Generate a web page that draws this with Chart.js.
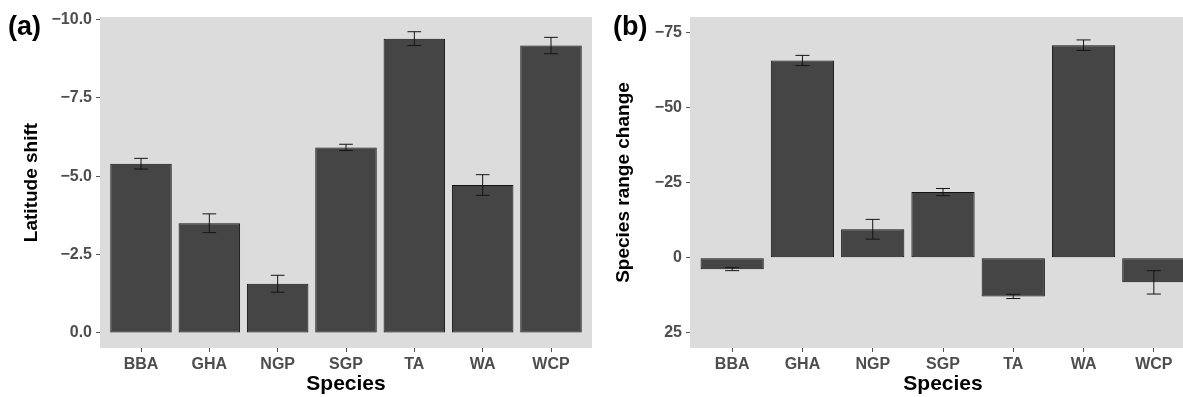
<!DOCTYPE html>
<html>
<head>
<meta charset="utf-8">
<script src="https://cdn.jsdelivr.net/npm/chart.js@4.4.0/dist/chart.umd.min.js"></script>
<style>
  html, body { margin: 0; padding: 0; background: #fff; overflow: hidden; }
  #wrap { position: relative; width: 1183px; height: 397px; overflow: hidden; }
  #chartA { position: absolute; left: 0; top: 0; }
  #chartB { position: absolute; left: 600px; top: 0; }
</style>
</head>
<body>
<div id="wrap">
  <canvas id="chartA" width="600" height="397"></canvas>
  <canvas id="chartB" width="600" height="397"></canvas>
</div>
<script>
// data
const species = ['BBA', 'GHA', 'NGP', 'SGP', 'TA', 'WA', 'WCP'];
const latShift = [-5.40, -3.50, -1.57, -5.92, -9.39, -4.72, -9.17];
const latErr = [0.17, 0.30, 0.27, 0.10, 0.22, 0.33, 0.26];
const rangeChange = [3.8, -65.8, -9.5, -21.9, 12.9, -70.9, 8.2];
const rangeErr = [0.5, 1.7, 3.3, 1.2, 0.7, 1.75, 3.9];
const latTicks = [0, -2.5, -5, -7.5, -10];
const rangeTicks = [25, 0, -25, -50, -75];

const FONT = "'Liberation Sans', Arial, sans-serif";
const TICK_COLOR = '#4D4D4D';

// grey panel behind the bars
const panelBg = {
  id: 'panelBg',
  beforeDraw(chart) {
    const {ctx, chartArea: a} = chart;
    ctx.save();
    ctx.fillStyle = '#DCDCDC';
    ctx.fillRect(a.left, a.top, a.right - a.left, a.bottom - a.top);
    ctx.restore();
  }
};

// error bars, positioned with the chart scales
const errorBars = {
  id: 'errorBars',
  afterDatasetsDraw(chart) {
    const {ctx, scales: {x, y}} = chart;
    const ds = chart.data.datasets[0];
    ctx.save();
    ctx.strokeStyle = '#151515';
    ctx.lineWidth = 1;
    ds.data.forEach((p, i) => {
      const e = ds.errors[i];
      const px = x.getPixelForValue(p.x);
      const hw = Math.abs(x.getPixelForValue(p.x + 0.1) - px);
      const y1 = y.getPixelForValue(p.y - e);
      const y2 = y.getPixelForValue(p.y + e);
      ctx.beginPath();
      ctx.moveTo(px, y1); ctx.lineTo(px, y2);
      ctx.moveTo(px - hw, y1); ctx.lineTo(px + hw, y1);
      ctx.moveTo(px - hw, y2); ctx.lineTo(px + hw, y2);
      ctx.stroke();
    });
    ctx.restore();
  }
};

// "(a)" / "(b)" tag
const panelTag = {
  id: 'panelTag',
  afterDraw(chart, args, opts) {
    const ctx = chart.ctx;
    ctx.save();
    ctx.font = 'bold 27px ' + FONT;
    ctx.fillStyle = '#000';
    ctx.textBaseline = 'middle';
    ctx.textAlign = 'left';
    ctx.fillText(opts.text, opts.x, opts.y);
    ctx.restore();
  }
};

function makeChart(id, values, errors, ticks, cfg) {
  return new Chart(document.getElementById(id), {
    type: 'bar',
    data: {
      datasets: [{
        data: values.map((v, i) => ({x: i, y: v})),
        errors: errors,
        backgroundColor: '#454545',
        borderColor: '#111111',
        borderWidth: 1,
        borderSkipped: false,
        categoryPercentage: 1,
        barPercentage: 0.9
      }]
    },
    options: {
      responsive: false,
      animation: false,
      layout: {padding: {left: 0, right: cfg.padRight, top: 17, bottom: 0}},
      plugins: {
        legend: {display: false},
        tooltip: {enabled: false},
        panelTag: {text: cfg.tag, x: cfg.tagX, y: 28}
      },
      scales: {
        x: {
          type: 'linear',
          offset: false,
          min: -0.6,
          max: 6.6,
          afterBuildTicks: s => { s.ticks = species.map((_, i) => ({value: i})); },
          afterFit: s => { s.height = 49; },
          ticks: {
            callback: v => species[v],
            autoSkip: false,
            maxRotation: 0,
            padding: 3,
            color: TICK_COLOR,
            font: {family: FONT, size: 16, weight: 'bold'}
          },
          grid: {offset: false, drawOnChartArea: false, drawTicks: true, tickLength: 4, color: '#555'},
          border: {display: false},
          title: {
            display: true,
            text: 'Species',
            color: '#000',
            padding: {top: 0, bottom: 0},
            font: {family: FONT, size: 21, weight: 'bold'}
          }
        },
        y: {
          reverse: true,
          min: cfg.yMin,
          max: cfg.yMax,
          afterBuildTicks: s => { s.ticks = ticks.map(v => ({value: v})); },
          afterFit: s => { s.width = cfg.yWidth; },
          ticks: {
            callback: v => v.toFixed(cfg.decimals).replace('-', '\u2212'),
            padding: 4,
            color: TICK_COLOR,
            font: {family: FONT, size: 16, weight: 'bold'}
          },
          grid: {drawOnChartArea: false, drawTicks: true, tickLength: 4, color: '#555'},
          border: {display: false},
          title: {
            display: true,
            text: cfg.yTitle,
            color: '#000',
            padding: {top: cfg.titlePad, bottom: 0},
            font: {family: FONT, size: 19, weight: 'bold'}
          }
        }
      }
    },
    plugins: [panelBg, errorBars, panelTag]
  });
}

makeChart('chartA', latShift, latErr, latTicks, {
  yMin: -10.08, yMax: 0.48, yWidth: 100, padRight: 8, titlePad: 20,
  yTitle: 'Latitude shift', decimals: 1, tag: '(a)', tagX: 8
});

makeChart('chartB', rangeChange, rangeErr, rangeTicks, {
  yMin: -80.3, yMax: 30.1, yWidth: 90, padRight: 4, titlePad: 12,
  yTitle: 'Species range change', decimals: 0, tag: '(b)', tagX: 13
});
</script>
</body>
</html>
